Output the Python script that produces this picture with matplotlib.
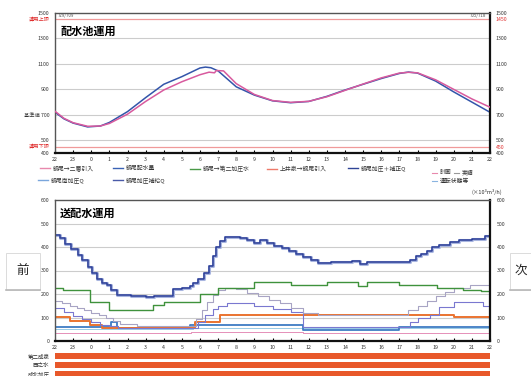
import numpy as np
import matplotlib
matplotlib.use("Agg")
from matplotlib import pyplot as plt
from matplotlib.lines import Line2D
from matplotlib.patches import FancyBboxPatch

plt.rcParams['font.family'] = ['Noto Sans CJK JP', 'DejaVu Sans']

# hours counted from 22:00 of the previous day
hour_labels = [str(h % 24) for h in range(22, 47)]

# --- reservoir level (top chart) ---
lvl_blue_t = [0, 0.5, 1, 1.8, 2.5, 3, 4, 5, 6, 7, 8, 8.3, 8.6, 9, 10, 11, 12, 13, 14, 15, 16, 17, 18, 19, 19.5, 20, 21, 22, 23, 24]
lvl_blue = [720, 668, 635, 605, 612, 640, 725, 835, 940, 1000, 1068, 1075, 1070, 1045, 920, 855, 810, 795, 805, 845, 895, 940, 985, 1025, 1036, 1028, 965, 880, 800, 720]
lvl_pink_t = [0, 0.5, 1, 1.8, 2.5, 3, 4, 5, 6, 7, 8, 8.5, 8.8, 8.9, 9.3, 10, 11, 12, 13, 14, 15, 16, 17, 18, 19, 19.5, 20, 21, 22, 23, 24]
lvl_pink = [728, 672, 638, 610, 612, 632, 705, 805, 895, 960, 1015, 1035, 1030, 1048, 1045, 945, 860, 812, 798, 806, 842, 892, 942, 990, 1028, 1034, 1030, 975, 900, 825, 760]

left_ticks = [1500, 1450, 1300, 1100, 900, 700, 500, 450, 400]
left_labels = ["1500", "運用上限", "1300", "1100", "900", "基準値 700", "500", "運用下限", "400"]
right_labels = ["1500", "1450", "1300", "1100", "900", "700", "500", "450", "400"]
limit_ticks = [1450, 450]

# --- flows (bottom chart), x1000 m3/h ---
navy_t = [0, 0.3, 0.55, 0.9, 1.27, 1.5, 1.82, 2.05, 2.32, 2.6, 2.87, 3.1, 3.42, 4.2, 5.0, 5.45, 6.5, 7.0, 7.45, 7.6,
          7.9, 8.2, 8.5, 8.7, 8.9, 9.1, 9.4, 10.2, 10.6, 11.0, 11.3, 11.7, 12.1, 12.5, 12.9, 13.3, 13.7, 14.1, 14.5, 15.2,
          16.4, 16.8, 17.2, 18.5, 19.3, 19.6, 19.9, 20.2, 20.5, 20.8, 21.2, 21.8, 22.3, 23.0, 23.7, 24.0]
navy_v = [452, 440, 412, 392, 366, 345, 315, 290, 262, 248, 238, 215, 196, 190, 188, 192, 222, 226, 232, 245,
          265, 290, 320, 360, 400, 425, 443, 438, 428, 418, 428, 415, 405, 396, 385, 370, 357, 345, 332, 338,
          340, 328, 336, 336, 336, 345, 360, 372, 385, 400, 410, 421, 430, 432, 447, 438]

green_t = [0, 0.45, 1.93, 3.0, 5.4, 6.0, 8.0, 9.0, 11.0, 13.0, 15.0, 16.7, 17.2, 19.0, 21.1, 22.5, 23.5, 24]
green_v = [225, 217, 166, 132, 153, 166, 200, 226, 251, 238, 251, 234, 251, 238, 225, 218, 213, 213]

orange_t = [0, 0.85, 1.93, 2.6, 7.7, 9.1, 13.7, 22.0, 24]
orange_v = [102, 85, 68, 55, 81, 111, 109, 102, 102]

steel_t = [0, 3.1, 3.4, 7.45, 13.7, 19.0, 24]
steel_v = [60, 80, 55, 68, 45, 60, 60]

pink_t = [0, 7.5, 13.7, 19.0, 24]
pink_v = [35, 38, 33, 36, 36]

cyan_t = [0, 7.6, 24]
cyan_v = [50, 55, 55]

grayA_t = [0, 0.4, 0.8, 1.2, 1.6, 2.0, 2.4, 2.8, 3.2, 3.6, 4.5, 7.5, 7.8, 8.1, 8.4, 8.7, 9.0, 9.4, 10.0, 10.6,
           11.2, 11.8, 12.4, 13.0, 13.7, 14.5, 16.0, 19.0, 19.5, 20.0, 20.5, 21.0, 21.5, 22.0, 22.9, 23.4, 24]
grayA_v = [170, 160, 150, 142, 130, 120, 110, 98, 85, 72, 65, 65, 95, 130, 165, 195, 215, 226, 220, 205,
           190, 175, 160, 140, 120, 112, 110, 112, 130, 150, 170, 190, 210, 225, 238, 238, 228]

purpB_t = [0, 0.5, 1.0, 1.5, 2.0, 2.5, 3.0, 3.5, 7.6, 7.9, 8.3, 8.7, 9.0, 9.5, 10.0, 11.0, 12.0, 13.0, 13.7, 19.2,
           19.6, 20.0, 20.7, 21.2, 22.0, 22.8, 23.6, 24]
purpB_v = [140, 122, 105, 92, 80, 70, 62, 55, 55, 80, 110, 135, 150, 160, 162, 150, 138, 125, 60, 60,
           80, 100, 111, 145, 166, 166, 150, 150]

legend_labels = ["錦尾→二層引入", "錦尾配水量", "錦尾→第二加圧水", "上井泉→錦尾引入", "錦尾加圧＋補正Q",
                 "錦尾南加圧Q", "錦尾加圧補給Q"]
legend_colors = ['#e889ad', '#3a62b5', '#4a9a48', '#ee7a6a', '#2f4496', '#7aa6dc', '#4a5aa8']

station_labels = ["第二成泉", "西之水", "成北加圧"]

W, H = 531, 376
fig = plt.figure(figsize=(W / 100, H / 100), dpi=100)
fig.patch.set_facecolor('white')


def box(x0, y0, x1, y1):
    return [x0 / W, 1 - y1 / H, (x1 - x0) / W, (y1 - y0) / H]


def frame(ax):
    for s in ['top', 'left']:
        ax.spines[s].set_color('#555555')
        ax.spines[s].set_linewidth(1.0)
    for s in ['bottom', 'right']:
        ax.spines[s].set_color('#111111')
        ax.spines[s].set_linewidth(1.6)
    ax.set_xlim(0, 24)
    ax.set_xticks(np.arange(25))
    ax.set_xticklabels(hour_labels, fontsize=3.8, color='#333333')
    ax.tick_params(axis='x', direction='in', length=2, pad=3)
    ax.tick_params(axis='y', length=0, labelsize=3.8, labelcolor='#333333', pad=4)


# top chart
ax1 = fig.add_axes(box(55, 13, 490, 153))
frame(ax1)
ax1.set_ylim(400, 1500)
for g in [500, 700, 900, 1100, 1300]:
    ax1.axhline(g, color='#cccccc', lw=0.8, zorder=0)
for g in limit_ticks:
    ax1.axhline(g, color='#f09a9a', lw=0.9, zorder=1)
ax1.plot(lvl_pink_t, lvl_pink, color='#d85a9e', lw=1.1, zorder=3)
ax1.plot(lvl_blue_t, lvl_blue, color='#3355aa', lw=1.1, zorder=2)
ax1.set_yticks(left_ticks)
ax1.set_yticklabels(left_labels)
for t, lab in zip(left_ticks, ax1.get_yticklabels()):
    if t in limit_ticks:
        lab.set_color('#e03030')
ax1r = ax1.twinx()
ax1r.set_ylim(400, 1500)
ax1r.set_yticks(left_ticks)
ax1r.set_yticklabels(right_labels)
ax1r.tick_params(axis='y', length=0, labelsize=3.8, labelcolor='#333333', pad=4)
for t, lab in zip(left_ticks, ax1r.get_yticklabels()):
    if t in limit_ticks:
        lab.set_color('#e03030')
for s in ax1r.spines.values():
    s.set_visible(False)
ax1.text(0.3, 1358, "配水池運用", fontsize=8, fontweight='bold', va='center')
ax1.text(0.15, 1482, "729/709", fontsize=3.2, color='#555555', va='center')
ax1.text(23.8, 1482, "705/718", fontsize=3.2, color='#555555', va='center', ha='right')

# bottom chart
ax2 = fig.add_axes(box(55, 200, 490, 341))
frame(ax2)
ax2.set_ylim(0, 600)
for g in [100, 200, 300, 400, 500]:
    ax2.axhline(g, color='#cccccc', lw=0.8, zorder=0)
ax2.step(pink_t, pink_v, where='post', color='#e58fb8', lw=0.7)
ax2.step(cyan_t, cyan_v, where='post', color='#9acbe6', lw=0.7)
ax2.step(steel_t, steel_v, where='post', color='#3f7cc4', lw=1.3)
ax2.step(orange_t, orange_v, where='post', color='#ea7330', lw=1.4)
ax2.step(purpB_t, purpB_v, where='post', color='#7a78d0', lw=0.8)
ax2.step(grayA_t, grayA_v, where='post', color='#a8a4c4', lw=0.8)
ax2.step(green_t, green_v, where='post', color='#3f923c', lw=1.0)
ax2.step(navy_t, navy_v, where='post', color='#a9b6e0', lw=2.2)
ax2.step(navy_t, navy_v, where='post', color='#2d3f98', lw=1.1)
ax2.set_yticks(np.arange(0, 601, 100))
ax2r = ax2.twinx()
ax2r.set_ylim(0, 600)
ax2r.set_yticks(np.arange(0, 601, 100))
ax2r.tick_params(axis='y', length=0, labelsize=3.8, labelcolor='#333333', pad=5)
for s in ax2r.spines.values():
    s.set_visible(False)
ax2.text(0.25, 545, "送配水運用", fontsize=8, fontweight='bold', va='center')

# legend between the charts
leg_pos = [(40, 168), (113, 168), (190, 169), (267, 169), (348, 168), (38, 180), (113, 180)]
for (x, y), lab, col in zip(leg_pos, legend_labels, legend_colors):
    fig.add_artist(Line2D([x / W, (x + 10) / W], [1 - y / H, 1 - y / H], color=col, lw=1.0))
    fig.text((x + 13) / W, 1 - y / H, lab, fontsize=4.2, va='center', color='#333333')
fig.add_artist(Line2D([432 / W, 437 / W], [1 - 173 / H] * 2, color='#e889ad', lw=0.8))
fig.text(440 / W, 1 - 173 / H, "計画", fontsize=4.2, va='center', color='#333333')
fig.add_artist(Line2D([454 / W, 459 / W], [1 - 173 / H] * 2, color='#999999', lw=0.8))
fig.text(462 / W, 1 - 173 / H, "実績", fontsize=4.2, va='center', color='#333333')
fig.add_artist(Line2D([432 / W, 437 / W], [1 - 181 / H] * 2, color='#8ab4e0', lw=0.8))
fig.text(440 / W, 1 - 181 / H, "運転状態等", fontsize=4.2, va='center', color='#333333')
fig.text(472 / W, 1 - 192 / H, "(×10³m³/h)", fontsize=4.0, va='center', color='#333333')

# station run bars
ax3 = fig.add_axes(box(55, 351.5, 490, 378.5))
ax3.barh(np.arange(len(station_labels)), [24] * len(station_labels), left=0, height=0.62, color='#e8582a')
ax3.set_xlim(0, 24)
ax3.set_ylim(len(station_labels) - 0.5, -0.5)
ax3.set_yticks(np.arange(len(station_labels)))
ax3.set_yticklabels(station_labels, fontsize=4.0, color='#333333')
ax3.tick_params(length=0, pad=4)
ax3.set_xticks([])
for s in ax3.spines.values():
    s.set_visible(False)

# page buttons
for x0, x1, lab in [(6, 40, "前"), (510, 531, "次")]:
    fig.add_artist(FancyBboxPatch((x0 / W, 1 - 290 / H), (x1 - x0) / W, 37 / H,
                                  boxstyle='square,pad=0', fc='white', ec='#d6d6d6', lw=0.6))
    fig.add_artist(Line2D([x0 / W, x1 / W], [1 - 290 / H] * 2, color='#b8b8b8', lw=1.2))
    fig.text((x0 + x1) / 2 / W, 1 - 270 / H, lab, fontsize=9, ha='center', va='center', color='#222222')

fig.savefig("out.png", dpi=100)
